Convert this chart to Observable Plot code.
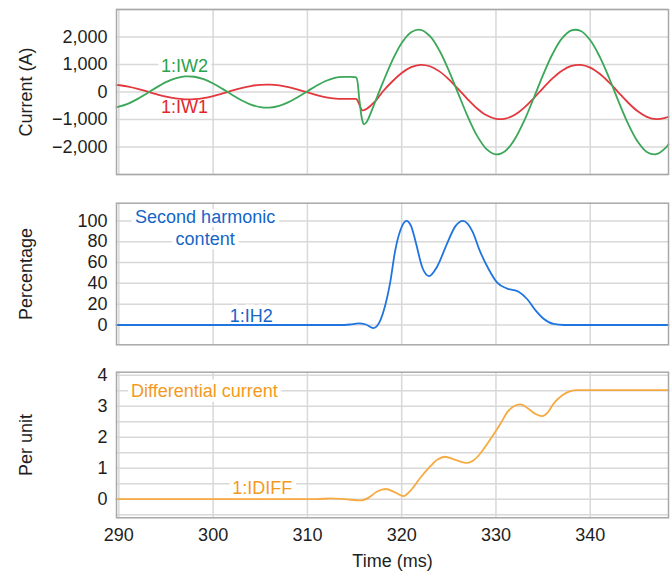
<!DOCTYPE html>
<html>
<head>
<meta charset="utf-8">
<script src="https://cdn.jsdelivr.net/npm/d3@7"></script>
<script src="https://cdn.jsdelivr.net/npm/@observablehq/plot@0.6"></script>
<style>
  html, body { margin: 0; padding: 0; background: #fff; }
  #chart { width: 670px; }
  #chart svg { display: block; }
</style>
</head>
<body>
<div id="chart"></div>
<script>
// ---------- data ----------
const timeTicks = [290, 300, 310, 320, 330, 340];
const xDomain = [289.75, 348.3];

// Winding currents (A)
const iwTime = [289.75, 290, 291, 292, 293, 294, 295, 296, 297, 298, 299, 300, 301, 302, 303, 304, 305, 306, 307, 308, 309, 310, 311, 312, 313, 314, 315, 315.2, 315.5, 315.8, 316.0, 316.3, 316.7, 317.0, 317.3, 318, 319, 320, 321, 322, 323, 324, 325, 326, 327, 328, 329, 330, 331, 332, 333, 334, 335, 336, 337, 338, 339, 340, 341, 342, 343, 344, 345, 346, 347, 348, 348.3];
const iw2 = [-549, -532, -420, -249, -43, 169, 358, 496, 565, 554, 465, 311, 113, -100, -299, -458, -550, -566, -504, -368, -182, 29, 235, 409, 524, 548, 545, 520, -250, -1000, -1175, -1080, -780, -520, -260, 341, 1144, 1785, 2176, 2261, 2029, 1509, 781, -58, -888, -1596, -2076, -2268, -2143, -1713, -1042, -227, 621, 1381, 1947, 2240, 2218, 1884, 1287, 509, -342, -1142, -1786, -2179, -2261, -2029, -1902];
const iw1 = [260, 250, 199, 118, 20, -80, -170, -235, -267, -262, -220, -147, -54, 47, 142, 217, 261, 268, 239, 174, 86, -14, -112, -194, -240, -250, -250, -255, -450, -665, -660, -610, -500, -400, -300, 19, 382, 691, 904, 989, 936, 750, 460, 105, -264, -598, -848, -976, -968, -825, -566, -228, 143, 494, 775, 947, 987, 887, 662, 347, -19, -382, -692, -903, -989, -936, -900];

// Second harmonic content (%)
const ih2Time = [289.75, 300, 310, 313.5, 314.5, 315.4, 316.2, 317.0, 317.6, 318.1, 318.8, 319.3, 319.9, 320.5, 321.0, 321.45, 322.2, 322.9, 323.75, 324.8, 325.7, 326.5, 327.5, 328.3, 329.2, 330.1, 331.2, 332.4, 333.3, 334.2, 335.05, 336.1, 337.2, 340, 348.3];
const ih2 = [0, 0, 0, 0, 0.5, 1.5, 0.5, -3, 2, 14, 42, 71, 92, 100, 95, 81, 55, 47, 56, 78, 95, 100, 90, 71, 54, 41, 35, 32, 25, 14, 6, 1, 0, 0, 0];

// Differential current (per unit)
const idiffTime = [289.75, 300, 310, 311, 312.5, 314, 315.7, 316.5, 317.4, 318.3, 319.3, 320.2, 321.0, 322.0, 323.0, 323.8, 324.6, 325.6, 326.9, 327.6, 328.3, 329.1, 329.9, 330.6, 331.2, 331.9, 332.6, 333.4, 334.2, 334.9, 335.5, 336.1, 337.0, 337.9, 338.6, 340, 348.3];
const idiff = [0, 0, 0, 0, 0.03, 0, -0.04, 0.05, 0.25, 0.33, 0.22, 0.1, 0.3, 0.7, 1.05, 1.28, 1.37, 1.28, 1.17, 1.25, 1.46, 1.8, 2.16, 2.5, 2.81, 3.0, 3.06, 2.93, 2.75, 2.68, 2.8, 3.08, 3.35, 3.49, 3.52, 3.52, 3.52];

// Axis ticks and grids
const currentTicks = [-2000, -1000, 0, 1000, 2000];
const currentGrid = [-3000, -2000, -1000, 0, 1000, 2000, 3000];
const pctTicks = [0, 20, 40, 60, 80, 100];
const puTicks = [0, 1, 2, 3, 4];
const puGrid = [-0.5, 0, 0.5, 1, 1.5, 2, 2.5, 3, 3.5, 4];

// Annotations
const topLabels = [
  {x: 296.95, y: 970, text: "1:IW2", color: "#2ba24c"},
  {x: 296.95, y: -520, text: "1:IW1", color: "#e0282c"}
];
const midLabels = [
  {x: 299.15, y: 94, text: "Second harmonic\ncontent", color: "#1565c8"},
  {x: 304.05, y: 9.9, text: "1:IH2", color: "#1565c8"}
];
const botLabels = [
  {x: 299.07, y: 3.53, text: "Differential current", color: "#f39a1e"},
  {x: 305.2, y: 0.40, text: "1:IDIFF", color: "#f39a1e"}
];

// ---------- drawing ----------
const FONT = "'Liberation Sans', Arial, sans-serif";
const GRID = "#d8d8d8";
const FRAME = "#a8a8a8";
const INK = "#1e1e1e";

const toRows = (t, v) => t.map((x, i) => ({x, y: v[i]}));

function panel({height, marginTop, marginBottom, yDomain, yTicks, yFormat, yGrid, yLabel, lines, labels, showX}) {
  const marks = [
    Plot.ruleX(timeTicks, {stroke: GRID, strokeWidth: 1.5}),
    Plot.ruleY(yGrid, {stroke: GRID, strokeWidth: 1.5}),
    Plot.text(labels, {x: "x", y: "y", text: "text", fill: "color", stroke: "white", strokeWidth: 9, paintOrder: "stroke", strokeLinejoin: "round", fontSize: 18, lineHeight: 1.2}),
    ...lines.map(l => Plot.line(toRows(l.t, l.v), {x: "x", y: "y", stroke: l.color, strokeWidth: 1.8, curve: l.curve})),
    Plot.frame({stroke: FRAME, strokeWidth: 1.5}),
    Plot.axisY(yTicks, {tickSize: 0, tickPadding: 9, tickFormat: yFormat, fontSize: 18, fill: INK, label: null}),
    Plot.text([yLabel], {frameAnchor: "left", dx: -90, rotate: -90, text: d => d, fontSize: 18, fill: INK, textAnchor: "middle", lineAnchor: "middle"})
  ];
  if (showX) {
    marks.push(Plot.axisX(timeTicks, {tickSize: 0, tickPadding: 10, tickFormat: d => String(d), fontSize: 18, fill: INK, label: null}));
    marks.push(Plot.text(["Time (ms)"], {frameAnchor: "bottom", dy: 43, text: d => d, fontSize: 18, fill: INK, textAnchor: "middle", lineAnchor: "middle"}));
  }
  return Plot.plot({
    width: 670,
    height,
    marginLeft: 116,
    marginRight: 2,
    marginTop,
    marginBottom,
    style: {fontFamily: FONT, fontSize: "18px", color: INK, background: "white", overflow: "visible"},
    x: showX ? {domain: xDomain} : {domain: xDomain, axis: null},
    y: {domain: yDomain},
    marks
  });
}

const chart = document.getElementById("chart");

chart.appendChild(panel({
  height: 190, marginTop: 9, marginBottom: 16,
  yDomain: [-3000, 3000], yTicks: currentTicks, yFormat: d3.format(","), yGrid: currentGrid,
  yLabel: "Current (A)",
  lines: [
    {t: iwTime, v: iw1, color: "#e2383d", curve: "catmull-rom"},
    {t: iwTime, v: iw2, color: "#3ba758", curve: "catmull-rom"}
  ],
  labels: topLabels, showX: false
}));

chart.appendChild(panel({
  height: 167, marginTop: 12.7, marginBottom: 12.7,
  yDomain: [-19, 117], yTicks: pctTicks, yFormat: d => String(d), yGrid: pctTicks,
  yLabel: "Percentage",
  lines: [{t: ih2Time, v: ih2, color: "#1f74e0", curve: "monotone-x"}],
  labels: midLabels, showX: false
}));

chart.appendChild(panel({
  height: 214, marginTop: 14.7, marginBottom: 53.7,
  yDomain: [-0.6, 4.1], yTicks: puTicks, yFormat: d => String(d), yGrid: puGrid,
  yLabel: "Per unit",
  lines: [{t: idiffTime, v: idiff, color: "#f6ab42", curve: "monotone-x"}],
  labels: botLabels, showX: true
}));
</script>
</body>
</html>
